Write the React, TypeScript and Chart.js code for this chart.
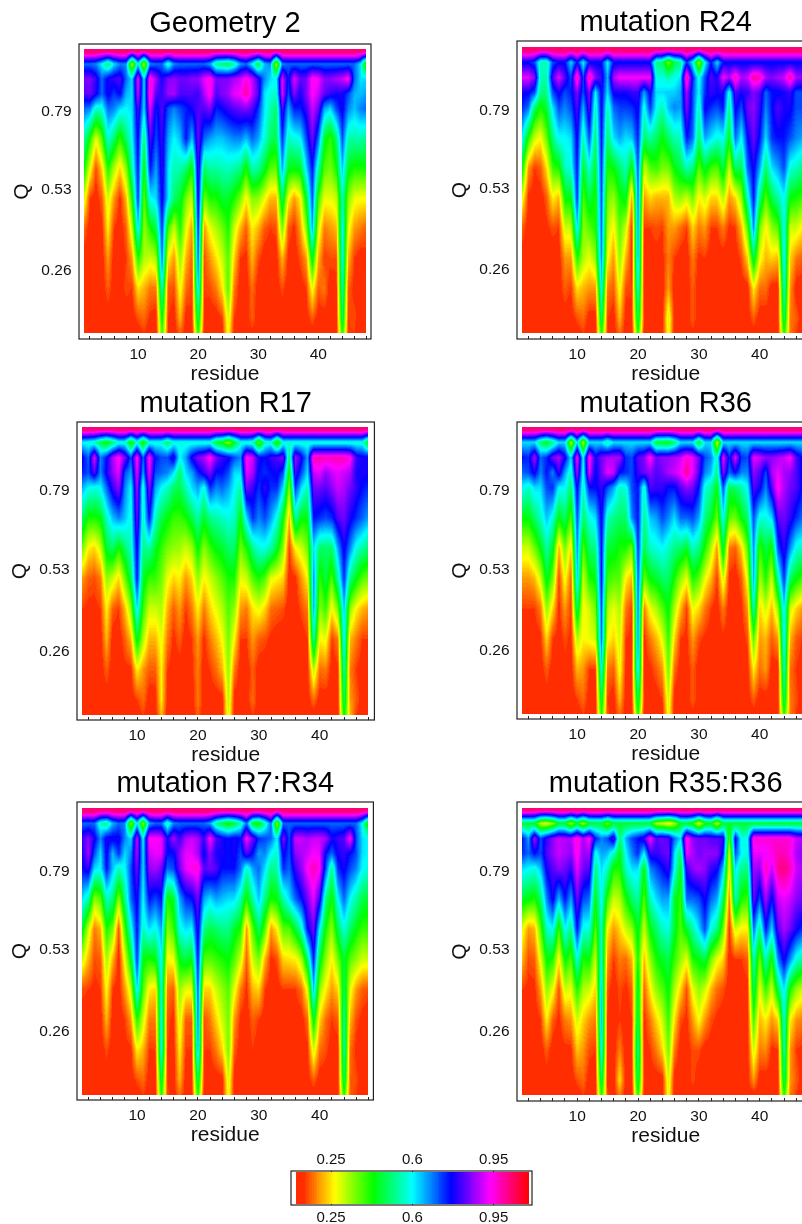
import React, { useEffect, useRef } from "react";
import Chart from "chart.js/auto";

const FONT = "'Liberation Sans', Arial, sans-serif";
const residues = [1,2,3,4,5,6,7,8,9,10,11,12,13,14,15,16,17,18,19,20,21,22,23,24,25,26,27,28,29,30,31,32,33,34,35,36,37,38,39,40,41,42,43,44,45,46,47,48];
// Q rows, from top to bottom of each panel
const qLevels = [1,0.95,0.9,0.85,0.8,0.7,0.6,0.5,0.4,0.3,0.2,0.1,0.05];
const qTicks = [0.26,0.53,0.79];
const residueTicks = [2,4,6,8,10,12,14,16,18,20,22,24,26,28,30,32,34,36,38,40,42,44,46,48];
const colorbarTicks = [0.25,0.6,0.95];
const colorbarValues = [0.1,0.2,0.3,0.4,0.5,0.6,0.7,0.8,0.9,1,1.1];
const topRow = [112,112,112,112,112,112,112,112,112,112,112,112,112,112,112,112,112,112,112,112,112,112,112,112,112,112,112,112,112,112,112,112,112,112,112,112,112,112,112,112,112,112,112,112,112,112,112,112];

const geometry2 = [topRow,
[70,70,68,60,50,62,68,68,30,62, 30,68,70,70,56,68,70,70,70,70, 70,66,52,50,48,54,66,70,60,46, 64,68,30,68,70,70,70,70,70,70, 70,70,70,70,70,70,62,36],
[85,85,80,70,78,80,82,70,62,93, 62,97,87,78,85,86,84,84,86,86, 92,95,85,85,85,88,90,95,90,80, 68,62,60,92,75,92,83,84,95,93, 86,86,88,90,95,70,62,62],
[82,84,78,70,78,73,77,65,62,90, 62,98,82,80,87,88,82,82,82,80, 88,95,82,85,87,92,93,100,90,82, 62,58,56,92,72,85,78,85,94,90, 83,80,78,78,72,65,64,66],
[70,68,56,58,70,68,62,60,62,82, 62,92,75,82,72,68,72,75,78,82, 82,85,75,77,80,82,84,85,82,74, 62,55,50,82,65,75,75,80,90,84, 66,62,72,78,68,64,68,70],
[55,42,28,38,58,50,40,50,60,78, 50,82,72,80,66,60,64,76,64,84, 70,66,64,64,66,68,68,64,70,66, 58,50,48,74,56,58,60,72,84,70, 46,40,50,72,55,54,55,52],
[44,28,15,24,42,32,24,34,54,76, 42,76,66,80,62,55,55,50,42,82, 50,54,54,55,56,54,52,42,55,53, 46,38,37,66,45,44,45,62,76,55, 38,36,42,64,45,42,42,42],
[30,14,12,16,30,20,13,22,42,74, 36,60,62,78,62,50,46,36,30,80, 36,42,42,46,46,42,36,26,35,34, 28,22,22,50,27,20,26,46,72,40, 28,28,30,55,35,28,27,27],
[17,12,12,13,26,14,12,16,30,62, 33,42,48,74,40,30,42,28,20,76, 20,28,32,36,42,30,22,16,26,22, 16,14,15,36,16,13,20,34,66,30, 18,20,22,60,28,20,18,16],
[12,12,12,12,20,12,12,14,20,42, 32,30,32,70,26,20,34,22,16,72, 15,20,25,30,38,24,14,13,22,15, 12,12,12,22,13,12,15,20,46,22, 14,15,15,60,22,14,12,13],
[12,12,12,12,16,12,12,15,14,25, 22,18,18,58,16,15,28,17,14,64, 14,15,18,25,38,18,12,12,17,12, 12,12,12,15,12,12,12,14,28,16, 18,12,13,56,16,13,12,12],
[12,12,12,12,12,12,12,12,12,15, 17,13,12,45,14,12,22,12,14,50, 14,12,12,14,30,14,12,12,16,12, 12,12,12,12,12,12,12,12,16,12, 12,12,12,50,14,15,12,12],
[12,12,12,12,12,12,12,12,12,12, 14,12,12,40,14,12,16,12,12,42, 12,12,12,12,28,12,12,12,13,12, 12,12,12,12,12,12,12,12,12,12, 12,12,12,42,14,14,12,12],
];

const mutationR24 = [topRow,
[76,76,72,55,55,72,76,76,62,76, 60,76,76,76,60,76,76,76,76,76, 76,76,52,50,35,48,52,74,60,32, 60,76,62,76,76,76,76,76,76,76, 76,76,76,76,76,76,76,76],
[92,92,86,55,55,82,92,82,72,100, 72,100,86,80,65,88,93,93,93,93, 93,93,58,58,55,58,62,100,75,58, 72,82,78,93,88,98,88,90,100,98, 88,85,88,90,100,88,86,86],
[78,77,72,52,52,72,78,72,75,85, 72,85,60,78,62,78,78,78,80,80, 66,78,62,62,63,63,66,88,72,60, 74,80,78,78,58,82,78,80,85,82, 70,76,76,78,80,72,72,74],
[74,70,50,42,47,62,72,68,72,82, 65,82,55,78,55,70,73,73,74,78, 58,74,60,55,64,68,66,85,72,55, 78,74,72,76,52,78,72,84,86,80, 68,76,82,78,78,72,72,74],
[60,42,30,27,37,52,60,60,62,78, 55,72,50,76,50,62,66,62,64,75, 50,54,50,44,50,55,56,76,70,50, 66,62,58,60,45,70,60,76,84,76, 62,74,76,76,72,68,66,62],
[44,20,14,16,25,40,42,56,58,76, 46,58,46,74,42,44,50,56,42,72, 30,38,40,36,36,44,48,55,52,38, 46,40,38,48,30,50,48,70,78,66, 50,62,66,72,58,56,52,48],
[28,13,12,12,16,26,22,44,44,74, 38,48,42,72,36,34,42,46,20,70, 20,24,22,22,22,32,34,30,36,26, 30,24,24,32,20,24,34,56,76,52, 38,48,54,60,44,42,40,36],
[16,12,12,12,13,15,14,30,30,62, 34,38,42,70,32,26,38,30,13,68, 14,14,15,14,20,20,17,14,24,18, 20,14,14,18,13,14,22,38,68,36, 26,34,38,60,30,30,26,24],
[12,12,12,12,12,12,12,20,20,42, 32,28,34,68,27,20,34,22,13,66, 12,13,13,13,18,14,12,12,18,13, 14,12,12,12,12,12,15,24,48,28, 22,24,22,62,24,18,16,16],
[12,12,12,12,12,12,12,16,14,25, 22,20,20,60,18,16,28,15,14,60, 12,12,12,12,20,12,12,12,16,12, 12,12,12,12,12,12,12,12,26,17, 17,12,12,58,20,12,12,12],
[12,12,12,12,12,12,12,12,12,15, 17,12,12,50,14,12,22,12,14,50, 14,12,12,12,30,12,12,12,16,12, 12,12,12,12,12,12,12,12,16,12, 12,12,12,50,18,16,12,12],
[12,12,12,12,12,12,12,12,12,12, 14,12,12,42,14,12,17,12,12,42, 12,12,12,12,28,12,12,12,13,12, 12,12,12,12,12,12,12,12,12,12, 12,12,12,42,18,14,12,12],
];

const mutationR17 = [topRow,
[60,58,56,48,42,50,58,58,40,58, 40,58,58,58,50,58,58,58,58,58, 58,58,45,43,33,45,58,58,56,35, 56,58,38,58,58,58,58,58,58,58, 58,58,58,58,58,58,58,42],
[78,70,92,68,76,88,95,85,72,95, 70,95,76,72,72,80,60,66,78,85, 88,95,85,80,78,72,68,95,90,78, 76,80,82,85,50,88,78,66,98,98, 98,98,98,98,95,80,78,78],
[75,72,82,68,78,86,92,72,66,92, 66,92,72,70,68,62,50,62,66,74, 80,85,76,76,72,62,62,92,88,76, 74,76,78,72,42,82,72,62,90,92, 86,90,92,90,88,78,78,78],
[65,60,58,60,70,80,86,68,60,88, 56,86,66,60,56,50,48,55,62,66, 58,74,68,70,66,60,54,85,80,74, 80,74,74,62,34,74,62,55,84,84, 82,86,90,88,84,80,76,74],
[50,42,42,44,56,64,68,64,58,84, 56,76,56,48,44,40,40,42,48,54, 46,52,54,56,58,56,44,62,74,68, 72,66,58,44,22,54,44,44,76,74, 72,74,82,84,78,74,70,66],
[36,26,24,30,46,50,42,50,56,78, 52,54,46,40,36,34,33,30,33,44, 34,40,44,46,50,50,36,42,52,58, 58,54,46,34,14,26,30,36,62,50, 50,50,66,78,68,58,54,50],
[20,16,15,18,34,30,24,36,48,76, 46,40,40,36,28,24,26,20,24,34, 26,30,34,38,42,42,28,30,38,42, 38,28,26,24,12,13,20,26,68,40, 48,38,54,74,52,44,38,36],
[14,13,13,14,26,16,14,22,34,62, 40,30,30,32,22,16,20,14,18,26, 18,24,28,32,38,34,20,18,25,28, 24,17,16,15,12,12,15,18,66,34, 40,26,36,64,34,26,22,20],
[12,12,12,12,22,12,12,16,22,46, 32,22,22,28,18,13,16,12,14,20, 13,18,22,27,36,26,14,14,20,16, 15,13,12,12,12,12,12,14,55,26, 28,14,18,62,22,18,14,14],
[12,12,12,12,16,12,12,13,13,26, 20,16,16,26,14,12,12,12,13,18, 12,14,17,22,34,18,12,12,16,12, 12,12,12,12,12,12,12,12,32,17, 18,12,13,56,18,14,12,12],
[12,12,12,12,12,12,12,12,12,14, 17,12,12,26,12,12,14,12,12,18, 12,12,12,12,32,12,12,12,17,12, 12,12,12,12,12,12,12,12,17,12, 12,12,12,50,20,16,12,12],
[12,12,12,12,12,12,12,12,12,12, 14,12,12,22,12,12,13,12,12,16, 12,12,12,12,30,12,12,12,14,12, 12,12,12,12,12,12,12,12,12,12, 12,12,12,44,22,14,12,12],
];

const mutationR36 = [topRow,
[62,62,62,50,44,52,62,62,30,62, 30,62,62,62,54,62,62,62,62,62, 62,62,46,45,44,50,62,62,62,44, 62,62,28,62,62,62,62,62,62,62, 62,62,62,62,62,62,62,62],
[76,74,88,70,74,84,88,78,62,94, 60,96,78,84,88,88,88,74,72,82, 85,95,84,86,86,88,90,96,92,84, 72,68,56,93,74,92,74,72,92,90, 86,86,88,90,94,82,76,76],
[70,72,78,68,76,68,80,66,56,88, 58,92,76,84,92,90,76,74,72,80, 84,86,82,84,88,90,93,100,92,82, 68,64,52,86,70,76,68,68,86,82, 72,88,92,88,86,82,76,76],
[60,56,62,62,72,74,60,60,50,78, 56,76,76,80,72,66,56,58,72,76, 56,82,80,80,76,76,82,86,84,76, 58,54,44,72,48,50,54,60,82,78, 68,82,95,88,84,82,76,76],
[44,44,50,56,64,58,44,50,38,72, 50,58,62,78,56,52,50,50,68,76, 52,64,66,72,68,62,70,70,72,66, 52,46,36,60,38,36,44,50,72,58, 58,62,82,84,80,74,70,68],
[30,30,36,44,54,46,22,36,24,68, 38,50,52,76,46,46,42,42,36,74, 48,56,58,60,56,52,50,46,56,52, 42,32,20,48,18,16,24,38,68,40, 48,42,72,80,68,58,56,54],
[20,20,22,30,46,36,14,28,16,64, 30,42,44,76,40,38,38,26,22,72, 36,44,46,50,50,42,34,28,42,38, 28,22,14,30,13,12,16,28,66,32, 42,30,54,74,50,44,40,38],
[14,14,14,18,34,24,13,20,14,50, 26,30,36,72,32,28,32,18,14,70, 18,28,32,38,44,32,22,14,28,24, 18,14,12,18,12,12,13,20,56,24, 30,22,34,62,30,24,20,18],
[12,12,12,13,24,14,12,15,13,32, 26,28,30,70,27,24,30,14,13,68, 13,18,22,28,40,24,14,13,20,15, 13,12,12,13,12,12,12,15,38,20, 22,16,20,62,22,16,14,13],
[12,12,12,12,16,12,12,13,12,22, 20,14,14,60,18,16,28,13,14,64, 12,13,16,20,36,17,12,12,16,12, 12,12,12,13,12,12,12,12,26,17, 20,12,12,58,17,14,12,12],
[12,12,12,12,12,12,12,12,12,14, 17,12,12,48,14,12,22,12,14,50, 14,12,12,14,30,12,12,12,16,12, 12,12,12,12,12,12,12,12,16,12, 12,12,12,50,18,15,12,12],
[12,12,12,12,12,12,12,12,12,12, 14,12,12,42,15,12,17,12,12,42, 12,12,12,12,28,12,12,12,13,12, 12,12,12,12,12,12,12,12,12,12, 12,12,12,42,18,14,12,12],
];

const mutationR7R34 = [topRow,
[70,70,70,56,52,65,70,68,33,62, 33,66,70,70,55,68,70,70,70,70, 70,66,53,47,42,47,55,70,45,42, 55,70,32,70,70,70,70,70,70,70, 70,70,70,70,70,70,60,38],
[80,86,78,68,78,78,78,68,62,90, 60,94,94,92,78,88,80,88,90,88, 80,94,82,78,76,78,76,94,84,74, 72,70,60,86,72,90,90,88,90,90, 88,78,80,82,95,72,62,60],
[78,88,72,62,78,64,74,62,68,88, 62,90,92,92,76,76,86,92,92,88, 76,86,78,78,76,78,72,82,76,66, 68,60,56,78,72,86,88,90,93,92, 76,70,78,80,76,72,62,60],
[76,80,62,60,76,64,56,60,72,84, 62,86,88,84,70,72,84,92,95,96, 82,84,82,76,76,76,70,56,66,70, 62,52,54,74,70,80,86,94,98,94, 72,52,74,78,72,68,60,58],
[62,55,34,38,56,52,34,52,70,78, 60,76,72,76,42,46,66,74,76,84, 66,62,66,64,62,62,55,42,54,64, 52,42,44,54,62,70,76,84,92,80, 52,42,60,70,60,54,48,46],
[46,30,18,22,42,36,15,40,58,76, 56,62,58,66,34,40,58,62,60,80, 52,48,50,52,52,46,42,20,38,50, 38,20,26,38,38,46,56,76,84,60, 42,34,48,58,50,44,40,40],
[30,22,15,16,33,22,12,28,45,74, 44,42,44,60,26,28,44,48,44,76, 38,38,40,42,44,38,30,16,30,36, 22,13,15,24,25,26,32,50,76,46, 34,26,36,46,38,34,30,30],
[15,14,13,14,27,14,12,20,30,62, 38,26,24,58,18,16,34,28,28,72, 24,24,30,34,38,28,18,13,22,24, 14,12,12,14,14,14,17,28,64,34, 26,20,24,50,28,20,16,15],
[12,12,12,12,22,12,12,14,20,42, 30,18,18,60,15,13,30,16,16,70, 15,18,24,30,36,20,13,12,16,14, 12,12,12,12,12,12,12,17,46,24, 17,14,16,55,22,15,13,12],
[12,12,12,12,15,12,12,13,13,26, 22,14,14,60,14,12,26,14,14,66, 14,14,18,24,36,16,12,12,14,12, 12,12,12,12,12,12,12,13,30,17, 15,12,12,56,17,13,12,12],
[12,12,12,12,12,12,12,12,12,15, 17,12,12,48,14,12,22,12,13,50, 14,12,12,12,30,12,12,12,14,12, 12,12,12,12,12,12,12,12,16,12, 12,12,12,50,16,15,12,12],
[12,12,12,12,12,12,12,12,12,12, 14,12,12,42,15,12,17,12,12,42, 12,12,12,12,28,12,12,12,12,12, 12,12,12,12,12,12,12,12,12,12, 12,12,12,42,16,14,12,12],
];

const mutationR35R36 = [topRow,
[46,46,45,30,28,34,45,45,32,45, 32,45,46,46,36,46,46,46,46,46, 46,45,32,30,26,32,45,46,42,27, 42,45,30,46,46,46,46,46,46,46, 46,46,46,46,46,46,46,46],
[76,66,88,72,80,86,90,88,88,96, 88,94,76,68,72,82,50,65,72,76, 80,94,82,84,82,70,62,96,86,84, 84,82,82,80,38,78,58,60,96,96, 96,96,96,96,96,90,88,88],
[74,70,76,72,82,86,90,88,86,95, 86,88,58,66,64,56,44,60,68,74, 60,80,80,82,84,62,50,92,88,84, 86,86,86,76,28,72,60,58,92,92, 92,95,98,98,95,88,86,86],
[62,60,58,64,78,82,86,84,80,92, 84,82,52,62,56,42,42,56,62,62, 44,68,72,76,80,60,44,80,86,88, 86,80,78,64,26,62,52,52,88,86, 98,90,100,102,98,90,88,86],
[46,44,42,50,68,78,64,76,66,84, 72,70,44,60,40,30,32,42,50,54, 38,56,62,66,66,46,40,70,70,72, 78,70,66,50,18,56,42,40,84,72, 88,76,90,92,90,86,84,80],
[28,20,22,38,56,60,40,60,52,76, 58,58,38,56,26,20,24,30,34,46, 30,44,50,56,58,46,38,46,54,62, 72,58,52,36,13,30,26,26,70,52, 76,62,82,88,84,78,74,70],
[22,15,16,28,44,42,26,44,38,58, 42,44,30,58,20,14,18,17,22,42, 22,34,42,46,48,40,34,28,42,44, 48,36,28,24,12,14,14,16,56,36, 56,42,68,78,68,58,54,50],
[14,13,13,20,34,28,15,30,28,42, 32,30,24,62,15,12,15,13,16,48, 16,26,34,38,44,32,24,15,28,34, 30,22,17,15,12,12,12,13,50,28, 40,30,48,62,42,34,30,30],
[12,12,12,14,26,16,13,18,20,30, 24,20,18,64,13,12,14,12,14,50, 13,18,24,30,40,25,15,13,20,27, 20,15,13,12,12,12,12,12,40,22, 26,20,24,58,26,20,18,18],
[12,12,12,12,16,12,12,13,13,23, 20,15,14,60,13,12,18,12,14,56, 12,14,18,24,36,18,12,12,15,15, 12,12,12,12,12,12,12,12,30,18, 19,13,14,56,20,14,13,13],
[12,12,12,12,12,12,12,12,12,15, 17,12,12,50,12,12,25,12,13,50, 14,12,12,12,30,12,12,12,15,12, 12,12,12,12,12,12,12,12,20,12, 12,12,12,50,20,16,12,12],
[12,12,12,12,12,12,12,12,12,12, 14,12,12,42,15,12,18,12,12,42, 12,12,12,12,28,12,12,12,12,12, 12,12,12,12,12,12,12,12,12,12, 12,12,12,42,18,14,12,12],
];

const titles = ["Geometry 2","mutation R24","mutation R17","mutation R36","mutation R7:R34","mutation R35:R36"];
const panelValues = [geometry2,mutationR24,mutationR17,mutationR36,mutationR7R34,mutationR35R36];

// layout only: frame edges and the pixel rows/columns where the data starts and ends
const layouts = [
  {L:79,R:373,T:44,B:339,x1:84,x48:368.4,top:49,bottom:333,titleH:37},
  {L:517,R:815,T:41,B:339,x1:522.4,x48:809.1,top:47.3,bottom:333.3,titleH:35},
  {L:77,R:375,T:422,B:720,x1:82.3,x48:369,top:427.3,bottom:715,titleH:35},
  {L:517,R:815,T:422,B:719,x1:522.4,x48:809.1,top:427.3,bottom:714.3,titleH:35},
  {L:77,R:375,T:802,B:1100,x1:82.3,x48:370,top:808.3,bottom:1095,titleH:35},
  {L:517,R:815,T:802,B:1101,x1:522.4,x48:809.1,top:808.3,bottom:1095,titleH:35},
];

const LEVELS = 120;
const FLOOR = 0.14; // the lowest contour band of the plot: everything below it is one red
function valueToRgb(v: number, cap: number) {
  const c = Math.min(cap, v < FLOOR ? 0.126 : v);
  const h = (Math.floor((c - 0.1) * LEVELS) + 0.5) / LEVELS * 6;
  const i = Math.floor(h), f = h - i;
  const q = Math.round(255 * (1 - f)), t = Math.round(255 * f);
  return [[255,t,0],[q,255,0],[0,255,t],[0,q,255],[t,0,255],[255,0,q]][i % 6];
}

function segment(arr: number[], v: number) {
  let i = 0;
  while (i < arr.length - 2 && v > arr[i + 1]) i++;
  const f = (v - arr[i]) / (arr[i + 1] - arr[i]);
  return [i, Math.max(0, Math.min(1, f))];
}

const heatPlugin = {
  id: "heat",
  beforeDatasetsDraw(chart: any, _a: any, opts: any) {
    const { xs, ys, rows, cap, yPixels } = opts;
    if (!xs) return;
    const sx = chart.scales.x, sy = chart.scales.y;
    const x0 = Math.round(sx.getPixelForValue(xs[0]));
    const x1 = Math.round(sx.getPixelForValue(xs[xs.length - 1]));
    const y0 = yPixels ? Math.round(chart.chartArea.top + 1) : Math.round(sy.getPixelForValue(ys[ys.length - 1]));
    const y1 = yPixels ? Math.round(chart.chartArea.bottom - 1) : Math.round(sy.getPixelForValue(ys[0]));
    const w = x1 - x0, h = y1 - y0;
    const off = document.createElement("canvas");
    off.width = w; off.height = h;
    const octx = off.getContext("2d")!;
    const img = octx.createImageData(w, h);
    const cols = [] as number[][];
    for (let px = 0; px < w; px++) cols.push(segment(xs, sx.getValueForPixel(x0 + px + 0.5)));
    for (let py = 0; py < h; py++) {
      const [j, fy] = segment(ys, sy.getValueForPixel(y0 + py + 0.5));
      for (let px = 0; px < w; px++) {
        const [i, fx] = cols[px];
        const v = (rows[j][i] * (1 - fx) + rows[j][i + 1] * fx) * (1 - fy) + (rows[j + 1][i] * (1 - fx) + rows[j + 1][i + 1] * fx) * fy;
        const c = valueToRgb(v, cap);
        const k = (py * w + px) * 4;
        img.data[k] = c[0]; img.data[k + 1] = c[1]; img.data[k + 2] = c[2]; img.data[k + 3] = 255;
      }
    }
    octx.putImageData(img, 0, 0);
    const ctx = chart.ctx;
    ctx.save();
    ctx.filter = "blur(0.6px)";
    ctx.drawImage(off, x0, y0);
    ctx.restore();
  },
  afterDraw(chart: any) {
    const a = chart.chartArea, ctx = chart.ctx;
    ctx.save();
    ctx.strokeStyle = "#222";
    ctx.lineWidth = 1.2;
    ctx.strokeRect(a.left, a.top, a.right - a.left, a.bottom - a.top);
    ctx.restore();
  },
};

function Panel({ index }: { index: number }) {
  const ref = useRef<HTMLCanvasElement>(null);
  const g = layouts[index];
  const leftW = 70, bottomH = 49, rightPad = 3;
  const width = leftW + (g.R - g.L) + rightPad;
  const height = g.titleH + (g.B - g.T) + bottomH;
  useEffect(() => {
    const unitX = (g.x48 - g.x1) / 47, unitY = (g.bottom - g.top) / 0.95;
    // rows of values, bottom Q first, for bilinear lookup
    const ys = [...qLevels].reverse();
    const rows = panelValues[index].map((r) => r.map((n) => n / 100)).reverse();
    const points: any[] = [];
    qLevels.forEach((q, j) => residues.forEach((x, i) => points.push({ x, y: q, v: panelValues[index][j][i] / 100 })));
    const chart = new Chart(ref.current!, {
      type: "scatter",
      data: { datasets: [{ data: points, pointRadius: 0, showLine: false }] },
      plugins: [heatPlugin],
      options: {
        animation: false, responsive: false,
        layout: { padding: { left: 0, right: rightPad, top: 0, bottom: 0 } },
        plugins: {
          legend: { display: false }, tooltip: { enabled: false },
          heat: { xs: residues, ys, rows, cap: 1.02 },
          title: { display: true, text: titles[index], fullSize: false, color: "#000",
            font: { family: FONT, size: 29, weight: "normal", lineHeight: 1.2 },
            padding: { top: 0, bottom: g.titleH - 34.8 } },
        } as any,
        scales: {
          x: { type: "linear", min: 1 - (g.x1 - g.L) / unitX, max: 48 + (g.R - g.x48) / unitX,
            afterBuildTicks: (s: any) => { s.ticks = residueTicks.map((value) => ({ value })); },
            afterFit: (s: any) => { s.height = bottomH; },
            grid: { drawOnChartArea: false, drawTicks: true, tickLength: -3, tickColor: "#222", tickWidth: 1 },
            border: { display: false },
            ticks: { autoSkip: false, maxRotation: 0, padding: 9.5, color: "#111",
              font: { family: FONT, size: 15.5 }, callback: (v: any) => (v % 10 === 0 ? String(v) : "") },
            title: { display: true, text: "residue", color: "#111", padding: { top: 0, bottom: 0.7 },
              font: { family: FONT, size: 21, lineHeight: 1.2 } } },
          y: { type: "linear", min: 0.05 - (g.B - g.bottom) / unitY, max: 1 + (g.top - g.T) / unitY,
            afterBuildTicks: (s: any) => { s.ticks = qTicks.map((value) => ({ value })); },
            afterFit: (s: any) => { s.width = leftW; },
            grid: { display: false, drawTicks: false }, border: { display: false },
            ticks: { padding: 7.5, color: "#111", font: { family: FONT, size: 15.5 }, callback: (v: any) => String(v) },
            title: { display: true, text: "Q", color: "#111", padding: { top: 0.7, bottom: 0 },
              font: { family: FONT, size: 21, lineHeight: 1.2 } } },
        },
      } as any,
    });
    return () => chart.destroy();
  }, []);
  return <canvas ref={ref} width={width} height={height}
    style={{ position: "absolute", left: g.L - leftW, top: g.T - g.titleH, width, height }} />;
}

function Colorbar() {
  const ref = useRef<HTMLCanvasElement>(null);
  const F = { L: 291, R: 532, T: 1171, B: 1205 };
  const topH = 25, bottomH = 19, side = 3;
  const width = F.R - F.L + side * 2, height = F.B - F.T + topH + bottomH;
  useEffect(() => {
    const unit = 232.4;
    const min = 0.25 - (331 - F.L) / unit, max = 0.25 + (F.R - 331) / unit;
    const row = colorbarValues;
    const tickAxis = (position: string, padding: number, h: number) => ({
      type: "linear", position, min, max,
      afterBuildTicks: (s: any) => { s.ticks = colorbarTicks.map((value) => ({ value })); },
      afterFit: (s: any) => { s.height = h; },
      grid: { drawOnChartArea: false, tickLength: -2.5, tickColor: "#222" }, border: { display: false },
      ticks: { autoSkip: false, maxRotation: 0, padding, color: "#111", font: { family: FONT, size: 15 }, callback: (v: any) => String(v) },
    });
    const chart = new Chart(ref.current!, {
      type: "scatter",
      data: { datasets: [{ data: colorbarValues.map((x) => ({ x, y: 0.5 })), pointRadius: 0, xAxisID: "x", yAxisID: "y" }] },
      plugins: [heatPlugin],
      options: {
        animation: false, responsive: false,
        layout: { padding: { left: side, right: side, top: 0, bottom: 0 } },
        plugins: { legend: { display: false }, tooltip: { enabled: false },
          heat: { xs: colorbarValues, ys: [0, 1], rows: [row, row], cap: 1.1, yPixels: true } } as any,
        scales: {
          x: tickAxis("bottom", 6, bottomH),
          x2: tickAxis("top", 5, topH),
          y: { display: false, min: 0, max: 1 },
        },
      } as any,
    });
    return () => chart.destroy();
  }, []);
  return <canvas ref={ref} width={width} height={height}
    style={{ position: "absolute", left: F.L - side, top: F.T - topH, width, height }} />;
}

export default function App() {
  return (
    <div style={{ position: "absolute", left: 0, top: 0, width: 802, height: 1224, overflow: "hidden", background: "#fff" }}>
      {titles.map((_, i) => <Panel key={i} index={i} />)}
      <Colorbar />
    </div>
  );
}
